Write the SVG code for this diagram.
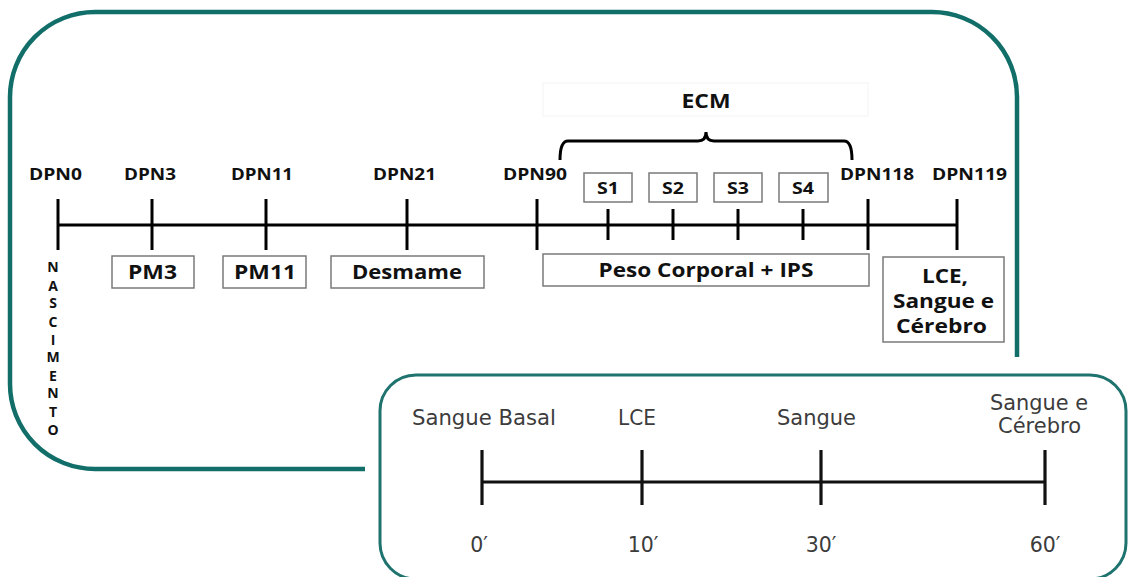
<svg xmlns="http://www.w3.org/2000/svg" width="1128" height="577" viewBox="0 0 1128 577">
<style>
.frame{fill:none;stroke:#126e69;stroke-width:4.5;stroke-linecap:butt}
.inset{fill:#ffffff;stroke:#1f736f;stroke-width:3}
.ln{stroke:#000;stroke-width:3;fill:none}
.lnb{stroke:#111;stroke-width:3.2;fill:none}
.box{fill:#fff;stroke:#7a7a7a;stroke-width:1.5}
.b{font-family:"Open Sans","DejaVu Sans",sans-serif;font-weight:bold;fill:#111;text-anchor:middle}
.dpn{font-size:16.5px}
.lbl{font-size:19px}
.s{font-size:16.5px}
.v{font-size:14px}
.t{font-family:"DejaVu Sans","Liberation Sans",sans-serif;font-size:20.5px;fill:#3c3c3c;text-anchor:middle}
</style>

<g id="outer-frame">
<path class="frame" d="M1017,357 L1017,97 A85,85 0 0 0 932,12 L95,12 A85,85 0 0 0 10,97 L10,384 A85,85 0 0 0 95,469 L365,469"/>
</g>

<g id="connectors">
<line class="ln" x1="58" y1="225" x2="957" y2="225"/>
<line class="ln" x1="58" y1="199" x2="58" y2="250"/>
<line class="ln" x1="152" y1="199" x2="152" y2="250"/>
<line class="ln" x1="266" y1="199" x2="266" y2="250"/>
<line class="ln" x1="407" y1="199" x2="407" y2="250"/>
<line class="ln" x1="537" y1="199" x2="537" y2="250"/>
<line class="ln" x1="608" y1="209" x2="608" y2="240"/>
<line class="ln" x1="673" y1="209" x2="673" y2="240"/>
<line class="ln" x1="738" y1="209" x2="738" y2="240"/>
<line class="ln" x1="803" y1="209" x2="803" y2="240"/>
<line class="ln" x1="868" y1="199" x2="868" y2="250"/>
<line class="ln" x1="957" y1="199" x2="957" y2="250"/>
<path class="ln" stroke-width="2.5" d="M560,160 Q560,141 568,141 L698,141 Q706,141 706,132 Q706,141 714,141 L844,141 Q852,141 852,160"/>
</g>

<g id="dpn-labels">
<text class="b dpn" x="55.5" y="180" textLength="53" lengthAdjust="spacingAndGlyphs">DPN0</text>
<text class="b dpn" x="150" y="180" textLength="52" lengthAdjust="spacingAndGlyphs">DPN3</text>
<text class="b dpn" x="262" y="180" textLength="62" lengthAdjust="spacingAndGlyphs">DPN11</text>
<text class="b dpn" x="404.5" y="180" textLength="63" lengthAdjust="spacingAndGlyphs">DPN21</text>
<text class="b dpn" x="535" y="180" textLength="64" lengthAdjust="spacingAndGlyphs">DPN90</text>
<text class="b dpn" x="877" y="180" textLength="74" lengthAdjust="spacingAndGlyphs">DPN118</text>
<text class="b dpn" x="969.5" y="180" textLength="75" lengthAdjust="spacingAndGlyphs">DPN119</text>
</g>

<g id="ecm">
<rect x="543" y="83" width="325" height="33" fill="none" stroke="#f4f4f4" stroke-width="1"/>
<text class="b lbl" x="706" y="108" textLength="49" lengthAdjust="spacingAndGlyphs">ECM</text>
</g>

<g id="s1"><rect class="box" x="584" y="173" width="48" height="29"/><text class="b s" x="608" y="194" textLength="22" lengthAdjust="spacingAndGlyphs">S1</text></g>
<g id="s2"><rect class="box" x="649" y="173" width="48" height="29"/><text class="b s" x="673" y="194" textLength="22" lengthAdjust="spacingAndGlyphs">S2</text></g>
<g id="s3"><rect class="box" x="714" y="173" width="48" height="29"/><text class="b s" x="738" y="194" textLength="22" lengthAdjust="spacingAndGlyphs">S3</text></g>
<g id="s4"><rect class="box" x="779" y="173" width="49" height="29"/><text class="b s" x="803" y="194" textLength="22" lengthAdjust="spacingAndGlyphs">S4</text></g>

<g id="nascimento">
<text class="b v" x="53" y="272">N</text>
<text class="b v" x="53" y="291">A</text>
<text class="b v" x="53" y="308">S</text>
<text class="b v" x="53" y="327">C</text>
<text class="b v" x="53" y="345">I</text>
<text class="b v" x="53" y="362">M</text>
<text class="b v" x="53" y="381">E</text>
<text class="b v" x="53" y="398">N</text>
<text class="b v" x="53" y="417">T</text>
<text class="b v" x="53" y="435">O</text>
</g>

<g id="pm3"><rect class="box" x="112" y="256" width="82" height="32"/><text class="b lbl" x="152.5" y="279" textLength="49" lengthAdjust="spacingAndGlyphs">PM3</text></g>
<g id="pm11"><rect class="box" x="223" y="256" width="83" height="32"/><text class="b lbl" x="265" y="279" textLength="62" lengthAdjust="spacingAndGlyphs">PM11</text></g>
<g id="desmame"><rect class="box" x="331" y="256" width="153" height="32"/><text class="b lbl" x="407" y="279" textLength="110" lengthAdjust="spacingAndGlyphs">Desmame</text></g>
<g id="peso"><rect class="box" x="543" y="254" width="326" height="32"/><text class="b lbl" x="706" y="277" textLength="215" lengthAdjust="spacingAndGlyphs">Peso Corporal + IPS</text></g>
<g id="lce-box"><rect class="box" x="883" y="257" width="121" height="85"/>
<text class="b lbl" x="945" y="283" textLength="46" lengthAdjust="spacingAndGlyphs">LCE,</text>
<text class="b lbl" x="943.5" y="308" textLength="101" lengthAdjust="spacingAndGlyphs">Sangue e</text>
<text class="b lbl" x="941.5" y="333" textLength="91" lengthAdjust="spacingAndGlyphs">Cérebro</text>
</g>

<g id="inset">
<rect class="inset" x="380" y="375" width="746" height="204" rx="36" ry="36"/>
<line class="lnb" x1="482" y1="482" x2="1045" y2="482"/>
<line class="lnb" x1="482" y1="450" x2="482" y2="505"/>
<line class="lnb" x1="642" y1="450" x2="642" y2="505"/>
<line class="lnb" x1="821" y1="450" x2="821" y2="505"/>
<line class="lnb" x1="1045" y1="450" x2="1045" y2="505"/>
<text class="t" x="484" y="425" textLength="144" lengthAdjust="spacingAndGlyphs">Sangue Basal</text>
<text class="t" x="637" y="425" textLength="38" lengthAdjust="spacingAndGlyphs">LCE</text>
<text class="t" x="816.5" y="425" textLength="79" lengthAdjust="spacingAndGlyphs">Sangue</text>
<text class="t" x="1039" y="410" textLength="98" lengthAdjust="spacingAndGlyphs">Sangue e</text>
<text class="t" x="1039.5" y="433" textLength="83" lengthAdjust="spacingAndGlyphs">Cérebro</text>
<text class="t" x="479" y="552">0′</text>
<text class="t" x="643" y="552">10′</text>
<text class="t" x="821" y="552">30′</text>
<text class="t" x="1045" y="552">60′</text>
</g>
</svg>
